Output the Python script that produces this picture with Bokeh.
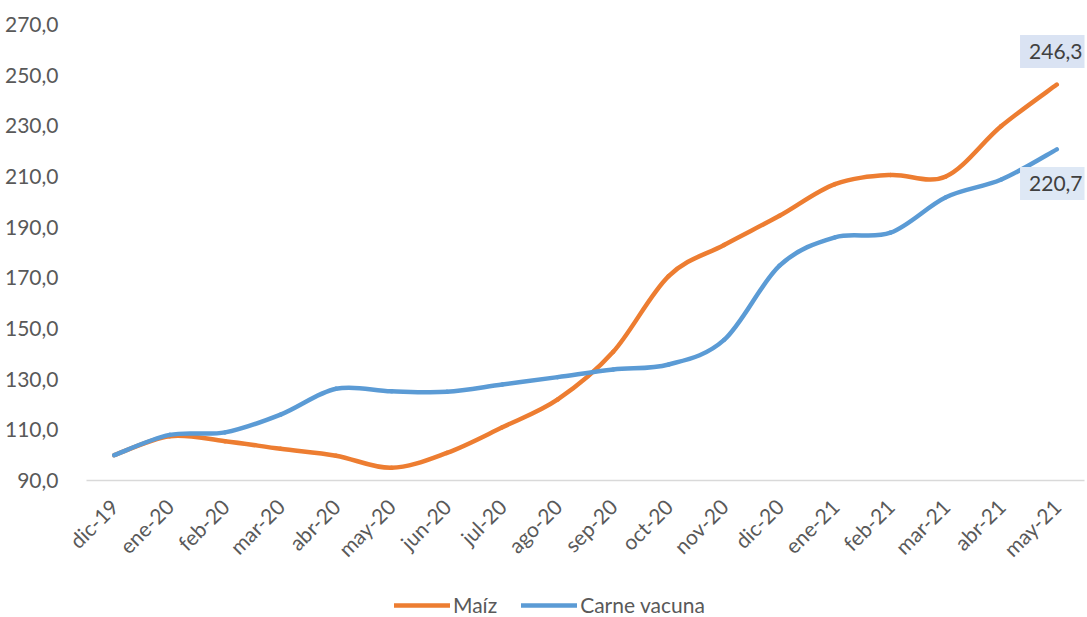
import numpy as np
from bokeh.plotting import figure
from bokeh.layouts import column
from bokeh.models import FixedTicker, Legend, LegendItem, Label, Range1d
from bokeh.embed import file_html
from bokeh.resources import INLINE

months = ["dic-19", "ene-20", "feb-20", "mar-20", "abr-20", "may-20", "jun-20",
          "jul-20", "ago-20", "sep-20", "oct-20", "nov-20", "dic-20", "ene-21",
          "feb-21", "mar-21", "abr-21", "may-21"]
maiz = [100.0, 107.5, 105.5, 102.5, 99.8, 95.0, 100.9, 111.0, 122.0, 140.8,
        170.7, 183.0, 194.5, 207.0, 210.6, 210.0, 229.9, 246.3]
carne = [100.0, 108.0, 109.0, 116.0, 126.2, 125.2, 125.0, 127.9, 130.8, 133.8,
         135.8, 145.5, 174.8, 186.0, 187.8, 201.8, 208.8, 220.7]
y_ticks = [90, 110, 130, 150, 170, 190, 210, 230, 250, 270]
series_names = ["Maíz", "Carne vacuna"]

ORANGE = "#ED7D31"
BLUE = "#5B9BD5"
FONT = "Lato"


def smooth_segments(ys):
    xs = np.arange(len(ys), dtype=float)
    ys = np.asarray(ys, dtype=float)
    n = len(ys)
    x0, y0, x1, y1, cx0, cy0, cx1, cy1 = ([] for _ in range(8))
    for i in range(n - 1):
        p0 = i - 1 if i > 0 else i
        p3 = i + 2 if i + 2 < n else i + 1
        x0.append(xs[i]); y0.append(ys[i])
        x1.append(xs[i + 1]); y1.append(ys[i + 1])
        cx0.append(xs[i] + (xs[i + 1] - xs[p0]) / 6.0)
        cy0.append(ys[i] + (ys[i + 1] - ys[p0]) / 6.0)
        cx1.append(xs[i + 1] - (xs[p3] - xs[i]) / 6.0)
        cy1.append(ys[i + 1] - (ys[p3] - ys[i]) / 6.0)
    return dict(x0=x0, y0=y0, x1=x1, y1=y1, cx0=cx0, cy0=cy0, cx1=cx1, cy1=cy1)


p = figure(width=1086, height=566, output_backend="svg", toolbar_location=None,
           x_range=Range1d(-0.5, len(months) - 0.5), y_range=Range1d(90, 270),
           frame_width=998, frame_height=456)
p.min_border_left = 86
p.min_border_right = 2
p.min_border_top = 24
p.min_border_bottom = 86
p.outline_line_color = None
p.xgrid.grid_line_color = None
p.ygrid.grid_line_color = None

p.bezier(source=smooth_segments(maiz), x0="x0", y0="y0", x1="x1", y1="y1",
         cx0="cx0", cy0="cy0", cx1="cx1", cy1="cy1",
         line_color=ORANGE, line_width=4.5, line_cap="round")
p.bezier(source=smooth_segments(carne), x0="x0", y0="y0", x1="x1", y1="y1",
         cx0="cx0", cy0="cy0", cx1="cx1", cy1="cy1",
         line_color=BLUE, line_width=4.5, line_cap="round")

# axes
p.xaxis.ticker = FixedTicker(ticks=list(range(len(months))))
p.xaxis.major_label_overrides = {i: m for i, m in enumerate(months)}
p.xaxis.major_label_orientation = np.pi / 4
p.xaxis.axis_line_color = "#D9D9D9"
p.xaxis.axis_line_width = 1.5
p.xaxis.major_tick_line_color = None
p.xaxis.minor_tick_line_color = None
p.xaxis.major_label_text_font = FONT
p.xaxis.major_label_text_font_size = "21px"
p.xaxis.major_label_text_color = "#595959"
p.xaxis.major_label_standoff = 16

p.yaxis.ticker = FixedTicker(ticks=y_ticks)
p.yaxis.major_label_overrides = {t: f"{t:.1f}".replace(".", ",") for t in y_ticks}
p.yaxis.axis_line_color = None
p.yaxis.major_tick_line_color = None
p.yaxis.minor_tick_line_color = None
p.yaxis.major_label_text_font = FONT
p.yaxis.major_label_text_font_size = "21px"
p.yaxis.major_label_text_color = "#595959"
p.yaxis.major_label_standoff = 22

# end labels
for ys, yoff, bg in ((maiz, 33, "#DAE3F3"), (carne, -34, "#DEE8F5")):
    lab = Label(x=len(ys) - 1, y=ys[-1], text=f"{ys[-1]:.1f}".replace(".", ","),
                x_offset=-1, y_offset=yoff, text_align="center", text_baseline="middle",
                text_font=FONT, text_font_size="21px", text_color="#404040",
                background_fill_color=bg, padding=9)
    p.add_layout(lab)

# legend strip below the chart (swatch renderers sit outside the visible range)
pl = figure(width=1086, height=50, output_backend="svg", toolbar_location=None,
            x_range=Range1d(0, 1), y_range=Range1d(0, 1), min_border=0)
pl.axis.visible = False
pl.grid.visible = False
pl.outline_line_color = None
r1 = pl.line(x=[-10, -9], y=[-10, -9], line_color=ORANGE, line_width=4.5, line_cap="round")
r2 = pl.line(x=[-10, -9], y=[-10, -9], line_color=BLUE, line_width=4.5, line_cap="round")
legend = Legend(items=[LegendItem(label=series_names[0], renderers=[r1]),
                       LegendItem(label=series_names[1], renderers=[r2])],
                orientation="horizontal", location=(308, 5),
                label_text_font=FONT, label_text_font_size="21px",
                label_text_color="#595959", border_line_color=None,
                background_fill_alpha=0, glyph_height=20, label_height=20,
                glyph_width=56, label_standoff=3, spacing=24, padding=0, margin=0)
pl.add_layout(legend, "center")

open("out.html", "w").write(file_html(column(p, pl, spacing=0), INLINE))
